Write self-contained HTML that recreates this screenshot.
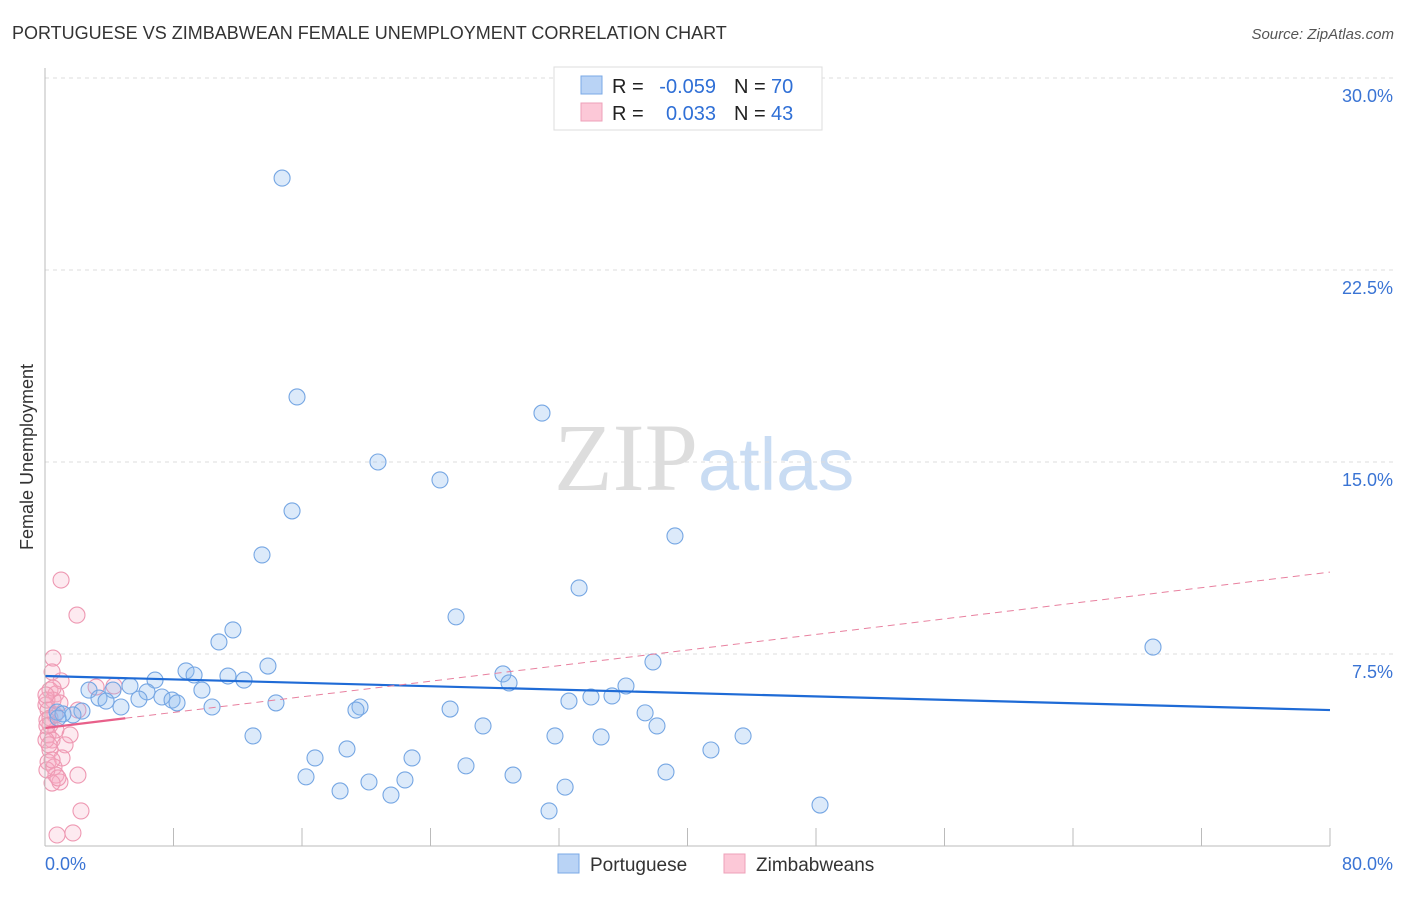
<!DOCTYPE html>
<html><head><meta charset="utf-8"><style>
body{margin:0;background:#fff;font-family:"Liberation Sans",sans-serif;}
svg text{font-family:"Liberation Sans",sans-serif;}
</style></head><body>
<svg id="chart" width="1406" height="892" xmlns="http://www.w3.org/2000/svg">
<text x="12" y="39" font-size="18" fill="#333">PORTUGUESE VS ZIMBABWEAN FEMALE UNEMPLOYMENT CORRELATION CHART</text>
<text x="1394" y="39" font-size="15" fill="#555" font-style="italic" text-anchor="end">Source: ZipAtlas.com</text>
<text transform="translate(33,457) rotate(-90)" font-size="18" fill="#333" text-anchor="middle">Female Unemployment</text>
<text x="554" y="490" font-size="96"><tspan fill="#ddd" font-family="Liberation Serif">ZIP</tspan><tspan fill="#c9dcf3" font-size="74">atlas</tspan></text>
<g id="grid"></g><g id="pts"></g><g id="lines"></g>
<line x1="45" y1="846" x2="1330" y2="846" stroke="#bbb"/>
<line x1="45" y1="68" x2="45" y2="846" stroke="#bbb"/>
<g>
<rect x="554" y="67" width="268" height="63" fill="#fff" stroke="#ddd"/>
<rect x="581" y="76" width="21" height="18" fill="#b9d3f5" stroke="#7aa8e6"/>
<rect x="581" y="103" width="21" height="18" fill="#fcc8d7" stroke="#eea0b8"/>
<text x="612" y="93" font-size="20" fill="#222">R =</text>
<text x="716" y="93" font-size="20" fill="#2f6fd6" text-anchor="end">-0.059</text>
<text x="734" y="93" font-size="20" fill="#222">N =</text>
<text x="771" y="93" font-size="20" fill="#2f6fd6">70</text>
<text x="612" y="120" font-size="20" fill="#222">R =</text>
<text x="716" y="120" font-size="20" fill="#2f6fd6" text-anchor="end">0.033</text>
<text x="734" y="120" font-size="20" fill="#222">N =</text>
<text x="771" y="120" font-size="20" fill="#2f6fd6">43</text>
</g>
<g>
<rect x="558" y="854" width="21" height="19" fill="#b9d3f5" stroke="#7aa8e6"/>
<text x="590" y="871" font-size="19" fill="#333">Portuguese</text>
<rect x="724" y="854" width="21" height="19" fill="#fcc8d7" stroke="#eea0b8"/>
<text x="756" y="871" font-size="19" fill="#333">Zimbabweans</text>
</g>
</svg>
<script>
const yTicks=[7.5,15,22.5,30];
const yTickLabels=["7.5%","15.0%","22.5%","30.0%"];
const xTickVals=[8,16,24,32,40,48,56,64,72,80];
const blueX=[14.76,15.69,30.94,20.73,24.59,15.38,39.22,13.51,33.25,25.59,11.70,10.83,68.98,37.85,13.88,8.78,9.28,28.51,11.39,6.85,12.39,28.89,5.29,36.17,2.74,4.23,6.35,9.77,7.28,35.30,33.99,32.62,3.36,3.80,5.85,7.91,8.22,14.38,4.73,10.40,19.61,19.36,25.22,0.75,2.30,37.36,1.74,1.12,27.27,38.10,12.95,31.75,34.62,43.46,18.80,41.46,16.81,22.85,26.21,16.25,29.14,38.66,22.41,20.17,18.37,21.54,32.38,48.25,31.38,0.81];
const blueY=[26.09,17.54,16.91,15.0,14.3,13.09,12.11,11.37,10.08,8.95,8.44,7.97,7.77,7.19,7.03,6.84,6.68,6.72,6.64,6.48,6.48,6.37,6.25,6.25,6.09,6.09,6.02,6.09,5.82,5.86,5.82,5.66,5.78,5.66,5.74,5.70,5.59,5.59,5.43,5.43,5.43,5.31,5.35,5.23,5.27,5.20,5.12,5.16,4.69,4.69,4.30,4.30,4.26,4.30,3.79,3.75,3.44,3.44,3.13,2.70,2.77,2.89,2.58,2.50,2.15,1.99,2.30,1.60,1.37,5.00];
const pinkX=[1.0,1.99,0.50,0.44,1.0,0.31,0.68,3.18,4.30,0.50,0.06,2.05,0.19,0.62,0.12,0.31,0.68,1.56,0.19,0.44,1.25,0.31,1.06,0.19,0.56,2.05,0.68,0.93,0.44,0.12,2.24,0.75,1.74,0.12,0.31,0.06,0.81,0.50,0.25,0.06,0.93,0.44,0.12];
const pinkY=[10.39,9.02,7.34,6.80,6.45,6.09,5.94,6.21,6.25,5.70,5.51,5.31,5.31,5.12,4.92,4.73,4.53,4.34,4.34,4.14,3.95,3.75,3.44,3.28,3.09,2.77,2.77,2.50,2.46,2.97,1.37,0.43,0.51,5.70,5.00,4.14,2.66,6.17,3.95,5.90,5.59,3.36,4.69];
const blueTrend=[6.64,5.31];
const pinkTrend=[4.61,10.7];
const NS="http://www.w3.org/2000/svg";
const X=v=>45+v/80*1285, Y=v=>846-v/7.5*192;
function mk(tag,attrs,parent){const e=document.createElementNS(NS,tag);for(const k in attrs)e.setAttribute(k,attrs[k]);parent.appendChild(e);return e;}
const grid=document.getElementById('grid');
yTicks.forEach((t,i)=>{
 const l=mk('line',{x1:45,x2:1394,y1:Y(t),y2:Y(t),stroke:'#ddd','stroke-dasharray':'4,4'},grid);
 
 
 const tx=mk('text',{x:1393,y:Y(t)+24,'font-size':18,fill:'#3a74d4','text-anchor':'end'},grid);
 tx.textContent=yTickLabels[i];
 
 
});
xTickVals.forEach(t=>{
 const l=mk('line',{x1:X(t),x2:X(t),y1:828,y2:846,stroke:'#bbb'},grid);
 
 
});
[["0.0%",45,"start"],["80.0%",1393,"end"]].forEach(a=>{
 const tx=mk('text',{x:a[1],y:870,'font-size':18,fill:'#3a74d4','text-anchor':a[2]},grid);
 tx.textContent=a[0];
 
 
});
const pts=document.getElementById('pts');
pinkX.forEach((v,i)=>{
 const c=mk('circle',{cx:X(v),cy:Y(pinkY[i]),r:8,fill:'rgba(248,170,195,0.25)',stroke:'#ee98b2','stroke-width':1.1},pts);
 
 
});
blueX.forEach((v,i)=>{
 const c=mk('circle',{cx:X(v),cy:Y(blueY[i]),r:8,fill:'rgba(140,185,240,0.3)',stroke:'#75a6e3','stroke-width':1.1},pts);
 
 
});
const lines=document.getElementById('lines');
const bl=mk('line',{x1:X(0),y1:Y(blueTrend[0]),x2:X(80),y2:Y(blueTrend[1]),stroke:'#1f6bd6','stroke-width':2.2},lines);


const pf=v=>pinkTrend[0]+(pinkTrend[1]-pinkTrend[0])*v/80;
const pd=mk('line',{x1:X(5),y1:Y(pf(5)),x2:X(80),y2:Y(pf(80)),stroke:'#e8809f','stroke-width':1,'stroke-dasharray':'7,5'},lines);


const ps=mk('line',{x1:X(0),y1:Y(pf(0)),x2:X(5),y2:Y(pf(5)),stroke:'#e8608a','stroke-width':2.2},lines);


</script>
</body></html>
